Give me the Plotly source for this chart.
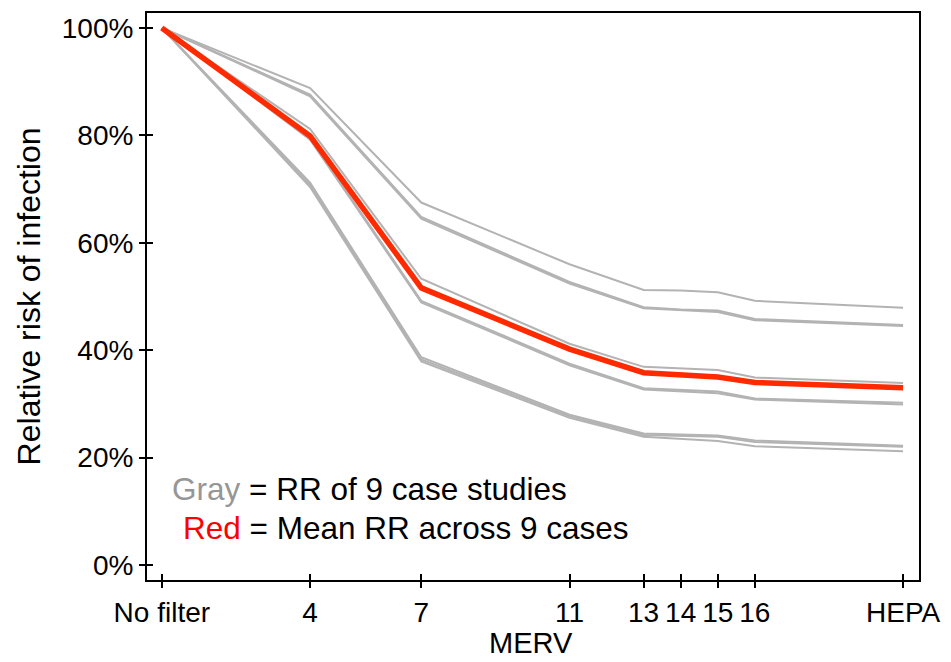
import plotly.graph_objects as go

merv_x = [0, 4, 7, 11, 13, 14, 15, 16, 20]
tick_labels = ["No filter", "4", "7", "11", "13", "14", "15", "16", "HEPA"]

case_a = [100, 88.8, 67.5, 56.0, 51.2, 51.1, 50.8, 49.2, 47.9]
case_b = [100, 87.6, 64.8, 52.7, 48.0, 47.6, 47.4, 45.8, 44.7]
case_c = [100, 87.3, 64.5, 52.4, 47.8, 47.4, 47.1, 45.6, 44.5]
case_d = [100, 81.2, 53.3, 41.2, 36.9, 36.6, 36.3, 34.9, 33.9]
case_e = [100, 79.5, 49.2, 37.5, 32.9, 32.6, 32.3, 31.0, 30.2]
case_f = [100, 79.2, 48.9, 37.2, 32.7, 32.4, 32.0, 30.8, 29.9]
case_g = [100, 71.2, 38.7, 28.0, 24.5, 24.3, 24.1, 23.2, 22.2]
case_h = [100, 70.8, 38.3, 27.7, 24.2, 24.0, 23.9, 22.9, 22.0]
case_i = [100, 70.4, 37.9, 27.4, 23.9, 23.5, 23.1, 22.1, 21.2]
mean_rr = [100, 79.9, 51.6, 40.2, 35.8, 35.4, 35.0, 34.0, 33.0]

y_ticks = [0, 20, 40, 60, 80, 100]
y_labels = ["0%", "20%", "40%", "60%", "80%", "100%"]

FONT = "Liberation Sans, Arial, sans-serif"
GRAY = "#b3b3b3"
RED = "#ff2a00"

fig = go.Figure()
for case in [case_a, case_b, case_c, case_d, case_e, case_f, case_g, case_h, case_i]:
    fig.add_trace(go.Scatter(x=merv_x, y=case, mode="lines",
                             line=dict(color=GRAY, width=2), showlegend=False,
                             hoverinfo="skip"))
fig.add_trace(go.Scatter(x=merv_x, y=mean_rr, mode="lines",
                         line=dict(color=RED, width=5.5), showlegend=False))

xr = [-0.4, 20.43]
yr = [-2.8, 102.8]

fig.update_layout(
    width=951, height=662,
    margin=dict(l=147, r=29, t=11, b=82),
    paper_bgcolor="white", plot_bgcolor="white",
    font=dict(family=FONT, color="black"),
    xaxis=dict(range=xr, tickmode="array", tickvals=merv_x, ticktext=tick_labels,
               ticks="outside", ticklen=6, tickwidth=2, tickcolor="black",
               showline=True, linecolor="black", linewidth=2, mirror=True,
               showgrid=False, zeroline=False, tickfont=dict(size=28, family=FONT)),
    yaxis=dict(range=yr, tickmode="array", tickvals=y_ticks, ticktext=y_labels,
               ticks="outside", ticklen=6, tickwidth=2, tickcolor="black",
               showline=True, linecolor="black", linewidth=2, mirror=True,
               showgrid=False, zeroline=False, tickfont=dict(size=28, family=FONT)),
    xaxis2=dict(range=xr, overlaying="x", anchor="y", side="bottom",
                tickmode="array", tickvals=merv_x, ticks="inside", ticklen=6,
                tickwidth=2, tickcolor="black", showticklabels=False,
                showline=False, showgrid=False, zeroline=False),
    yaxis2=dict(range=yr, overlaying="y", anchor="x", side="left",
                tickmode="array", tickvals=y_ticks, ticks="inside", ticklen=6,
                tickwidth=2, tickcolor="black", showticklabels=False,
                showline=False, showgrid=False, zeroline=False),
)

fig.add_trace(go.Scatter(x=[], y=[], xaxis="x2", yaxis="y2", showlegend=False))

fig.add_annotation(text="Relative risk of infection", xref="paper", yref="paper",
                   x=-0.153, y=0.5, xanchor="center", yanchor="middle",
                   textangle=-90, showarrow=False, font=dict(size=32, family=FONT))
fig.add_annotation(text="MERV", xref="paper", yref="paper",
                   x=0.498, y=-0.111, xanchor="center", yanchor="middle",
                   showarrow=False, font=dict(size=29, family=FONT))
fig.add_annotation(text="<span style='color:#969696'>Gray</span> = RR of 9 case studies",
                   xref="paper", yref="paper", x=0.0297, y=0.16,
                   xanchor="left", yanchor="middle", showarrow=False,
                   font=dict(size=31.5, family=FONT))
fig.add_annotation(text="<span style='color:#ff0000'>Red</span> = Mean RR across 9 cases",
                   xref="paper", yref="paper", x=0.0439, y=0.0914,
                   xanchor="left", yanchor="middle", showarrow=False,
                   font=dict(size=31.5, family=FONT))

fig.write_html("out.html")
